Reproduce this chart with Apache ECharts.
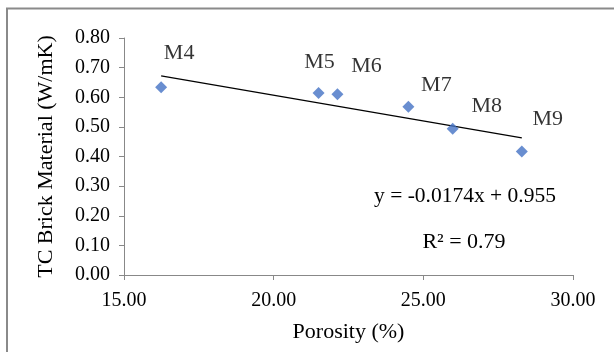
<!DOCTYPE html>
<html><head><meta charset="utf-8">
<script src="https://cdn.jsdelivr.net/npm/echarts@6/dist/echarts.min.js"></script>
<style>html,body{margin:0;padding:0;background:#fff}#c{width:614px;height:352px}</style>
</head><body><div id="c"></div>
<script>
const names = ['M4','M5','M6','M7','M8','M9'];
const porosity = [16.24, 21.50, 22.13, 24.50, 25.98, 28.29];
const tc = [0.634, 0.614, 0.610, 0.568, 0.494, 0.417];
const trendX = [16.24, 28.29];
const trendY = [0.672, 0.463];
const equationText = 'y = -0.0174x + 0.955';
const r2Text = 'R\u00b2 = 0.79';
const labelOffsets = [[18,-34],[1,-31],[29,-28],[28,-22],[34,-22],[26,-32]];

const FONT = '"Liberation Serif", "Times New Roman", serif';
const chart = echarts.init(document.getElementById('c'), null, {renderer:'canvas'});
chart.setOption({
  animation: false,
  backgroundColor: '#fff',
  grid: {left: 124, right: 41, top: 38, bottom: 77, containLabel: false},
  xAxis: {
    type: 'value', min: 15, max: 30, interval: 5,
    name: 'Porosity (%)', nameLocation: 'middle', nameGap: 46,
    nameTextStyle: {fontFamily: FONT, fontSize: 22, color: '#000'},
    axisLine: {show: true, lineStyle: {color: '#888', width: 1}},
    axisTick: {show: true, inside: false, length: 5, lineStyle: {color: '#888'}},
    splitLine: {show: false},
    axisLabel: {fontFamily: FONT, fontSize: 20, color: '#000', margin: 16, formatter: v => v.toFixed(2)}
  },
  yAxis: {
    type: 'value', min: 0, max: 0.8, interval: 0.1,
    name: 'TC Brick Material (W/mK)', nameLocation: 'middle', nameGap: 67, nameRotate: 90,
    nameTextStyle: {fontFamily: FONT, fontSize: 22, color: '#000'},
    axisLine: {show: true, lineStyle: {color: '#888', width: 1}},
    axisTick: {show: true, inside: false, length: 5, lineStyle: {color: '#888'}},
    splitLine: {show: false},
    axisLabel: {fontFamily: FONT, fontSize: 20, color: '#000', margin: 14, formatter: v => v.toFixed(2)}
  },
  series: [
    {
      type: 'line',
      data: trendX.map((x, i) => [x, trendY[i]]),
      showSymbol: false, symbol: 'none',
      lineStyle: {color: '#000', width: 1.2},
      silent: true, z: 1
    },
    {
      type: 'scatter',
      symbol: 'diamond', symbolSize: 12,
      itemStyle: {color: '#4472C4'},
      data: porosity.map((x, i) => ({
        value: [x, tc[i]],
        label: {show: true, formatter: names[i], position: 'inside', offset: labelOffsets[i],
          fontFamily: FONT, fontSize: 22, color: '#000'}
      })),
      z: 3
    }
  ],
  graphic: [
    {type: 'rect', shape: {x: 7, y: 8.5, width: 620, height: 360},
     style: {fill: 'none', stroke: '#8a8a8a', lineWidth: 2}, silent: true},
    {type: 'text', x: 465, y: 196, style: {text: equationText, font: '21.5px ' + FONT, fill: '#000', align: 'center', verticalAlign: 'middle'}},
    {type: 'text', x: 464, y: 242, style: {text: r2Text, font: '22px ' + FONT, fill: '#000', align: 'center', verticalAlign: 'middle'}}
  ]
});
</script></body></html>
